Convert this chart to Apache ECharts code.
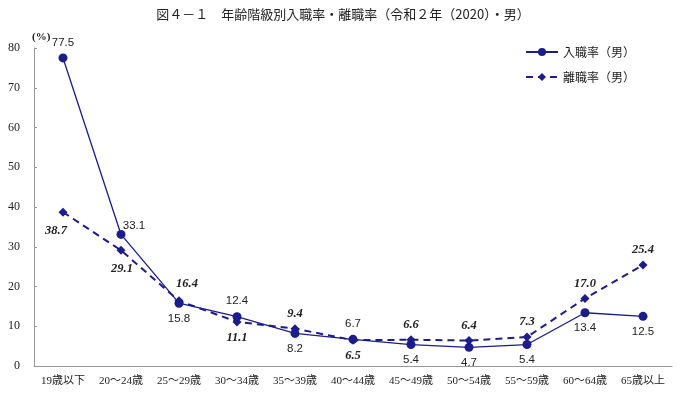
<!DOCTYPE html>
<html><head><meta charset="utf-8">
<script src="https://cdn.jsdelivr.net/npm/echarts@6/dist/echarts.min.js"></script>
<style>html,body{margin:0;padding:0;background:#fff}#c{width:686px;height:397px}</style>
</head><body><div id="c"></div>
<script>
const categories = ['19歳以下','20～24歳','25～29歳','30～34歳','35～39歳','40～44歳','45～49歳','50～54歳','55～59歳','60～64歳','65歳以上'];
const hireRate = [77.5, 33.1, 15.8, 12.4, 8.2, 6.7, 5.4, 4.7, 5.4, 13.4, 12.5];
const sepRate = [38.7, 29.1, 16.4, 11.1, 9.4, 6.5, 6.6, 6.4, 7.3, 17.0, 25.4];
const yTicks = [0, 10, 20, 30, 40, 50, 60, 70, 80];
const seriesNames = ['入職率（男）', '離職率（男）'];

// label placement (style only)
const hirePos = [[0,-8,'top'],[13,-9,'right'],[0,8,'bottom'],[0,-8,'top'],[0,8,'bottom'],[0,-8,'top'],[0,8,'bottom'],[0,8,'bottom'],[0,8,'bottom'],[0,8,'bottom'],[0,8,'bottom']];
const sepPos = [[-7,19,'c'],[1,18,'c'],[8,-17,'c'],[0,8,'bottom'],[0,-7,'top'],[0,8,'bottom'],[0,-7,'top'],[0,-7,'top'],[0,-7,'top'],[0,-7,'top'],[0,-7,'top']];

const COLOR = '#1c1c8c';
function mk(vals, pos) {
  return vals.map((v, i) => {
    const p = pos[i];
    let lab;
    if (p[2] === 'c' || p[2] === 'right') lab = { position: 'inside', offset: [p[0], p[1]] };
    else lab = { position: p[2], offset: [p[0], p[1] > 0 ? p[1] - 8 : p[1] + 8] };
    return { value: v, label: lab };
  });
}
const chart = echarts.init(document.getElementById('c'), null, { renderer: 'canvas' });
chart.setOption({
  animation: false,
  backgroundColor: '#fff',
  title: {
    text: '図４－１　年齢階級別入職率・離職率（令和２年（2020）・男）',
    left: 'center', top: 3,
    textStyle: { fontSize: 13, fontWeight: 'normal', color: '#222', fontFamily: 'Noto Sans CJK JP' }
  },
  legend: {
    orient: 'vertical', left: 520, top: 41, itemGap: 13,
    itemWidth: 32, itemHeight: 10,
    textStyle: { fontSize: 12, color: '#222', fontFamily: 'Noto Sans CJK JP' },
    data: seriesNames
  },
  grid: { left: 34, right: 14, top: 48, bottom: 31 },
  xAxis: {
    type: 'category', data: categories, boundaryGap: true,
    axisLine: { lineStyle: { color: '#999', width: 1 } },
    axisTick: { inside: true, length: 3, alignWithLabel: true, lineStyle: { color: '#999' } },
    axisLabel: { color: '#222', fontSize: 11, margin: 10, fontFamily: 'Liberation Serif, Noto Sans CJK JP' }
  },
  yAxis: {
    type: 'value', min: yTicks[0], max: yTicks[yTicks.length - 1], interval: 10,
    name: '(%)', nameGap: 5, nameTextStyle: { fontSize: 11, fontWeight: 'bold', color: '#222', align: 'left', padding: [0, 0, 0, -2], fontFamily: 'Liberation Serif' },
    axisLine: { show: true, lineStyle: { color: '#999', width: 1 } },
    axisTick: { show: true, inside: true, length: 3, lineStyle: { color: '#999' } },
    splitLine: { show: false },
    axisLabel: { color: '#222', fontSize: 12, margin: 14, fontFamily: 'Liberation Serif' }
  },
  series: [
    {
      name: seriesNames[0], type: 'line', data: mk(hireRate, hirePos),
      symbol: 'circle', symbolSize: 9,
      lineStyle: { color: COLOR, width: 1.3 }, itemStyle: { color: COLOR },
      label: { show: true, fontSize: 11.5, color: '#222', fontFamily: 'Liberation Sans', formatter: p => p.value.toFixed(1) }
    },
    {
      name: seriesNames[1], type: 'line', data: mk(sepRate, sepPos),
      symbol: 'diamond', symbolSize: 9,
      lineStyle: { color: COLOR, width: 2, type: [7, 5] }, itemStyle: { color: COLOR },
      label: { show: true, fontSize: 12.5, color: '#222', fontStyle: 'italic', fontWeight: 'bold', fontFamily: 'Liberation Serif', formatter: p => p.value.toFixed(1) }
    }
  ]
});
</script></body></html>
